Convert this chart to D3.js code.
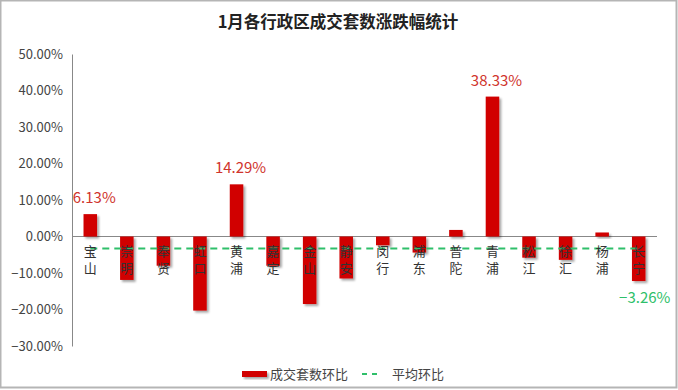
<!DOCTYPE html>
<html>
<head>
<meta charset="utf-8">
<script src="https://cdn.jsdelivr.net/npm/d3@7"></script>
<style>
  body { margin: 0; background: #fff; }
  svg { display: block; }
</style>
</head>
<body>
<div id="chart"></div>
<script>
// data
var districts = ['宝山', '崇明', '奉贤', '虹口', '黄浦', '嘉定', '金山', '静安',
  '闵行', '浦东', '普陀', '青浦', '松江', '徐汇', '杨浦', '长宁'];
var changes = [6.13, -11.9, -8.0, -20.3, 14.29, -8.0, -18.5, -11.5,
  -2.4, -4.4, 1.8, 38.33, -5.8, -6.4, 1.1, -12.2];
var average = -3.26;
var labelled = ['宝山', '黄浦', '青浦'];
var yTicks = [50, 40, 30, 20, 10, 0, -10, -20, -30];

var attrs = {
  svgWidth: 678,
  svgHeight: 390,
  marginTop: 54,
  marginLeft: 72,
  plotRight: 657,
  plotBottom: 346,
  barColor: '#d10000',
  avgColor: '#2fbf6a',
  font: '"Microsoft YaHei", "Noto Sans CJK SC", sans-serif'
};

var svg = d3.select('#chart')
  .append('svg')
  .attr('width', attrs.svgWidth)
  .attr('height', attrs.svgHeight)
  .attr('font-family', attrs.font);

// frame
svg.append('rect')
  .attr('x', 0.5).attr('y', 0.5)
  .attr('width', attrs.svgWidth - 2)
  .attr('height', attrs.svgHeight - 3)
  .attr('fill', '#fff')
  .attr('stroke', '#b5b5b5')
  .attr('stroke-width', 2);

var defs = svg.append('defs');
var filter = defs.append('filter').attr('id', 'shadow')
  .attr('x', '-50%').attr('y', '-50%').attr('width', '200%').attr('height', '200%');
filter.append('feDropShadow')
  .attr('dx', 2).attr('dy', 2)
  .attr('stdDeviation', 1.2)
  .attr('flood-color', '#000')
  .attr('flood-opacity', 0.35);

svg.append('text')
  .attr('x', 338)
  .attr('y', 28)
  .attr('text-anchor', 'middle')
  .attr('font-size', 16.5)
  .attr('font-weight', 'bold')
  .attr('fill', '#222')
  .text('1月各行政区成交套数涨跌幅统计');

// scales
var x = d3.scaleBand()
  .domain(districts)
  .range([attrs.marginLeft, attrs.plotRight])
  .paddingInner(0.63)
  .paddingOuter(0.315);

var y = d3.scaleLinear()
  .domain([-30, 50])
  .range([attrs.plotBottom, attrs.marginTop]);

// y axis
var yAxis = svg.append('g')
  .attr('transform', 'translate(' + attrs.marginLeft + ',0)')
  .call(d3.axisLeft(y).tickValues(yTicks).tickSize(0).tickPadding(9)
    .tickFormat(function (d) { return d3.format('.2f')(d) + '%'; }));
yAxis.select('.domain').attr('stroke', '#888');
yAxis.selectAll('text')
  .attr('font-size', 13)
  .attr('fill', '#444')
  .attr('font-family', attrs.font);

// zero line
svg.append('line')
  .attr('x1', attrs.marginLeft)
  .attr('x2', attrs.plotRight)
  .attr('y1', y(0)).attr('y2', y(0))
  .attr('stroke', '#888');

// bars
svg.append('g')
  .selectAll('rect')
  .data(districts)
  .enter()
  .append('rect')
  .attr('x', function (d) { return x(d); })
  .attr('width', x.bandwidth())
  .attr('y', function (d, i) { return y(Math.max(0, changes[i])); })
  .attr('height', function (d, i) { return Math.abs(y(changes[i]) - y(0)); })
  .attr('fill', attrs.barColor)
  .style('filter', 'url(#shadow)');

// average dashed line
svg.append('line')
  .attr('x1', x(districts[0]) + x.bandwidth() / 2)
  .attr('x2', x(districts[districts.length - 1]) + x.bandwidth() / 2)
  .attr('y1', y(average)).attr('y2', y(average))
  .attr('stroke', attrs.avgColor)
  .attr('stroke-width', 2)
  .attr('stroke-dasharray', '7,5');

// category labels, vertical
svg.append('g')
  .selectAll('text')
  .data(districts)
  .enter()
  .append('text')
  .attr('x', function (d) { return x(d) + x.bandwidth() / 2; })
  .attr('y', y(0) + 8)
  .style('writing-mode', 'vertical-rl')
  .style('text-orientation', 'upright')
  .style('letter-spacing', '4px')
  .attr('font-size', 13)
  .attr('fill', '#333')
  .text(function (d) { return d; });

// value labels
svg.append('g')
  .selectAll('text')
  .data(labelled)
  .enter()
  .append('text')
  .attr('x', function (d) { return x(d) + x.bandwidth() / 2 + 4; })
  .attr('y', function (d) { return y(changes[districts.indexOf(d)]) - 11; })
  .attr('text-anchor', 'middle')
  .attr('font-size', 15)
  .attr('fill', '#d0342c')
  .text(function (d) { return d3.format('.2f')(changes[districts.indexOf(d)]) + '%'; });

svg.append('text')
  .attr('x', x(districts[districts.length - 1]) + x.bandwidth() / 2 + 6)
  .attr('y', y(average) + 55)
  .attr('text-anchor', 'middle')
  .attr('font-size', 15)
  .attr('fill', attrs.avgColor)
  .text(d3.format('.2f')(average) + '%');

// legend
var legend = svg.append('g').attr('transform', 'translate(0,374)');
legend.append('rect')
  .attr('x', 242).attr('y', -3)
  .attr('width', 25).attr('height', 6)
  .attr('fill', attrs.barColor)
  .style('filter', 'url(#shadow)');
legend.append('text')
  .attr('x', 270).attr('y', 4.5)
  .attr('font-size', 13)
  .attr('fill', '#444')
  .text('成交套数环比');
legend.append('line')
  .attr('x1', 362).attr('x2', 382)
  .attr('y1', 0).attr('y2', 0)
  .attr('stroke', attrs.avgColor)
  .attr('stroke-width', 2)
  .attr('stroke-dasharray', '5,5');
legend.append('text')
  .attr('x', 392).attr('y', 4.5)
  .attr('font-size', 13)
  .attr('fill', '#444')
  .text('平均环比');
</script>
</body>
</html>
